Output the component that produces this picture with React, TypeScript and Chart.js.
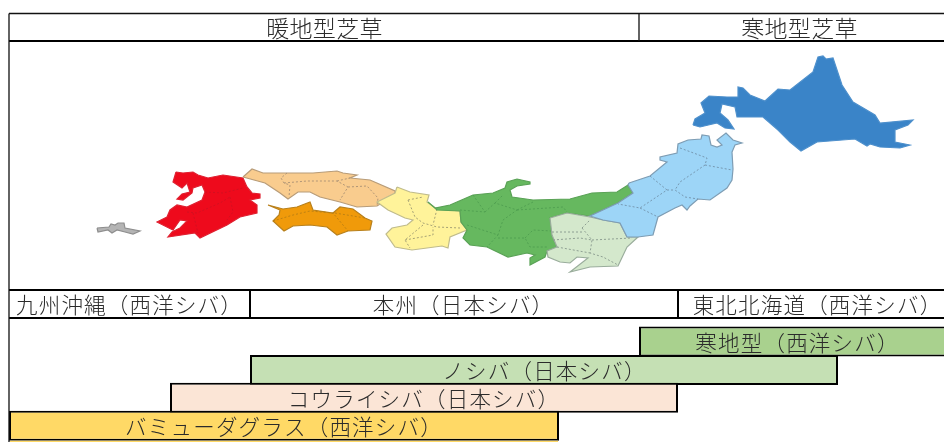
import React, { useEffect, useRef } from "react";
import { Chart, registerables } from "chart.js";

Chart.register(...registerables);

type P = [number, number];

// ---- map outlines ----
const okinawa: P[] = [[97,228],[109,227],[111,224],[115,225],[118,223],[124,223],[125,228],[140,231],[133,234],[125,232],[117,230],[112,233],[108,230],[98,232]];
const kyushu: P[] = [[176,172],[183,173],[193,172],[198,175],[208,178],[223,175],[243,178],[247,187],[252,193],[260,194],[260,198],[250,200],[257,205],[257,213],[240,217],[227,225],[200,238],[195,233],[168,237],[172,232],[180,228],[187,221],[180,220],[173,230],[157,222],[167,217],[170,210],[177,205],[187,207],[202,200],[205,192],[202,185],[193,188],[192,193],[183,200],[177,199],[182,194],[190,192],[187,183],[182,188],[173,182]];
const shikoku: P[] = [[268,205],[283,209],[297,207],[310,202],[313,210],[333,213],[340,207],[353,209],[365,218],[372,221],[370,230],[348,231],[337,235],[327,227],[310,225],[293,226],[284,231],[273,221],[279,215],[280,210]];
const chugoku: P[] = [[243,177],[252,169],[263,173],[287,173],[313,173],[337,171],[343,173],[357,175],[350,178],[370,180],[395,191],[395,195],[377,206],[357,207],[340,202],[320,197],[310,192],[298,192],[288,199],[280,193],[265,183]];
const kansai: P[] = [[397,187],[410,192],[429,195],[427,202],[437,209],[460,211],[461,222],[467,230],[450,237],[448,248],[442,246],[412,250],[395,247],[386,234],[392,228],[407,225],[413,220],[405,218],[388,210],[377,202],[395,193]];
const chubu: P[] = [[428,202],[435,208],[450,205],[473,195],[493,193],[505,188],[507,182],[517,179],[530,182],[530,184],[517,186],[510,190],[512,197],[533,200],[570,199],[592,193],[617,192],[628,185],[633,193],[618,203],[590,216],[567,213],[550,218],[552,235],[557,247],[547,251],[545,257],[530,265],[530,258],[535,255],[527,253],[508,257],[487,247],[470,245],[463,238],[467,230],[461,222],[460,211],[437,210]];
const kanto: P[] = [[550,218],[567,213],[590,217],[603,220],[620,223],[627,237],[638,237],[627,247],[618,266],[590,267],[570,272],[588,258],[577,257],[570,263],[560,262],[548,257],[547,251],[557,247],[552,235]];
const tohoku: P[] = [[629,183],[650,176],[667,162],[660,160],[660,157],[677,153],[678,144],[688,140],[701,139],[702,135],[709,136],[711,145],[717,147],[722,145],[717,140],[726,133],[733,140],[742,143],[735,145],[732,152],[733,169],[732,180],[727,188],[710,200],[698,199],[690,206],[687,210],[682,205],[675,208],[658,217],[653,235],[638,237],[627,237],[620,223],[603,220],[590,216],[618,203],[633,193],[628,185]];
const hokkaido: P[] = [[693,125],[695,119],[705,113],[701,103],[709,96],[727,97],[738,97],[738,87],[743,88],[750,95],[765,101],[778,89],[790,90],[813,72],[818,57],[823,56],[826,59],[833,58],[842,85],[853,102],[875,115],[880,123],[913,120],[908,125],[895,130],[895,142],[910,145],[900,148],[880,147],[870,144],[867,146],[855,139],[817,142],[801,151],[790,142],[778,130],[763,117],[737,117],[735,107],[722,104],[720,113],[728,120],[734,129],[725,128],[717,123],[700,127]];

// ---- prefecture borders inside each region ----
const kyushuBorders: P[][] = [
  [[205,192],[223,193],[243,188]],
  [[230,197],[233,212],[227,220]],
  [[187,212],[197,213],[220,203],[230,197]],
  [[193,213],[198,233]],
];
const shikokuBorders: P[][] = [
  [[273,221],[293,215],[310,211],[333,213],[348,231]],
  [[335,213],[353,216],[365,218]],
];
const chugokuBorders: P[][] = [
  [[287,173],[281,178],[284,183],[290,185],[289,197]],
  [[284,183],[307,181],[337,181],[348,187],[340,200]],
  [[337,181],[350,178]],
  [[348,187],[367,186],[378,198],[377,206]],
];
const kansaiBorders: P[][] = [
  [[408,200],[415,217],[423,223],[437,227],[460,228]],
  [[437,209],[433,225]],
  [[423,225],[405,240],[410,248]],
  [[405,240],[433,235],[433,227]],
  [[408,200],[423,197]],
];
const chubuBorders: P[][] = [
  [[473,195],[485,212],[460,210]],
  [[485,212],[495,203],[517,210],[503,220],[498,235]],
  [[495,203],[503,195]],
  [[517,210],[533,202]],
  [[517,210],[563,207],[567,212]],
  [[467,225],[498,235],[487,247]],
  [[498,238],[525,238],[530,247],[547,247]],
  [[525,238],[533,230],[552,231]],
];
const kantoBorders: P[][] = [
  [[582,228],[590,220]],
  [[582,228],[592,240],[590,253],[603,257],[618,265]],
  [[592,240],[632,238]],
  [[552,232],[582,232]],
  [[553,240],[580,238],[592,240]],
  [[557,247],[590,253]],
];
const tohokuBorders: P[][] = [
  [[680,148],[707,158],[705,165],[680,182],[675,190],[685,197],[698,199]],
  [[705,165],[732,170]],
  [[650,176],[667,190],[640,208],[618,204]],
  [[667,190],[675,190]],
  [[640,208],[658,217]],
];

const regions = [
  { pts: okinawa, fill: "#B4B4B4", edge: "#8E8E8E", borders: [] as P[][], dash: "#777" },
  { pts: kyushu, fill: "#EE0A1C", edge: "#E02030", borders: kyushuBorders, dash: "#D01020" },
  { pts: chugoku, fill: "#F9CC8E", edge: "#B89C78", borders: chugokuBorders, dash: "#A89074" },
  { pts: shikoku, fill: "#F09A0A", edge: "#B8801C", borders: shikokuBorders, dash: "#B87E14" },
  { pts: kansai, fill: "#FFF39A", edge: "#C0BC8C", borders: kansaiBorders, dash: "#9C9870" },
  { pts: chubu, fill: "#66B85F", edge: "#5AA256", borders: chubuBorders, dash: "#4F9E50" },
  { pts: kanto, fill: "#D4E8CC", edge: "#9AAD9C", borders: kantoBorders, dash: "#87978C" },
  { pts: tohoku, fill: "#9DD5F7", edge: "#7E9DB4", borders: tohokuBorders, dash: "#7292AA" },
  { pts: hokkaido, fill: "#3A84C8", edge: "#4E90CC", borders: [] as P[][], dash: "#333" },
];

// ---- table rules ----
const thickRules: P[][] = [
  [[9,41],[944,41]],
  [[9,290],[944,290]],
  [[9,318],[944,318]],
  [[250,290],[250,318]],
  [[678,290],[678,318]],
];
const thinRules: P[][] = [
  [[9,13.5],[944,13.5]],
  [[639,13.5],[639,41]],
  [[9,13.5],[9,442]],
];

// ---- zone bars ----
const barNames = ["寒地型（西洋シバ）", "ノシバ（日本シバ）", "コウライシバ（日本シバ）", "バミューダグラス（西洋シバ）"];
const barStarts = [639, 250, 170, 9];
const barEnds = [947, 838, 678, 559];
const barRows = [341.6, 369.9, 397.7, 425.7];
const barColors = ["#A9D18E", "#C5E0B4", "#FBE5D6", "#FFD966"];
const barTextNudge = [6, 0.5, 0, 0];

// ---- header texts ----
const headNames = ["暖地型芝草", "寒地型芝草"];
const headCentres = [324.5, 799.5];
const headRow = 28;
const zoneNames = ["九州沖縄（西洋シバ）", "本州（日本シバ）", "東北北海道（西洋シバ）"];
const zoneCentres = [129.5, 463.5, 817.5];
const zoneRow = 305;

const FONT = '"Noto Sans CJK JP"';

const textPlugin = {
  id: "tableText",
  afterDatasetsDraw(chart: any) {
    const { ctx, scales } = chart;
    const put = (t: string, x: number, y: number, size: number, gap: string) => {
      ctx.font = `300 ${size}px ${FONT}`;
      ctx.letterSpacing = gap;
      ctx.fillText(t, scales.x.getPixelForValue(x), scales.y.getPixelForValue(y));
    };
    ctx.save();
    ctx.fillStyle = "#2b2b2b";
    ctx.textAlign = "center";
    ctx.textBaseline = "middle";
    headNames.forEach((t, i) => put(t, headCentres[i], headRow, 23, "0.3px"));
    zoneNames.forEach((t, i) => put(t, zoneCentres[i], zoneRow, 21.5, "1.2px"));
    barNames.forEach((t, i) =>
      put(t, (barStarts[i] + Math.min(barEnds[i], 944)) / 2 + barTextNudge[i], barRows[i] + 1, 21.5, "1.2px")
    );
    ctx.restore();
  },
};

const toXY = (p: P[]) => p.map(([x, y]) => ({ x, y }));

export default function App() {
  const ref = useRef<HTMLCanvasElement>(null);
  useEffect(() => {
    // painted in this order: Chart.js paints the last dataset first, so the list is reversed below
    const layers: any[] = [];
    const seg = (pts: P[], color: string, width: number, dash: number[] = []) =>
      layers.push({
        type: "scatter", data: toXY(pts), showLine: true, pointRadius: 0,
        borderColor: color, borderWidth: width, borderDash: dash, tension: 0, clip: false,
      });
    regions.forEach((r) => {
      layers.push({
        type: "scatter", data: toXY([...r.pts, r.pts[0]]), showLine: true, pointRadius: 0,
        borderColor: r.edge, borderWidth: 1.2, backgroundColor: r.fill, fill: "shape", tension: 0,
      });
      r.borders.forEach((b) => seg(b, r.dash, 0.9, [2, 2]));
    });
    layers.push({
      type: "bar", indexAxis: "y", grouped: false,
      data: barRows.map((y, i) => ({ y, x: [barStarts[i], barEnds[i]] })),
      backgroundColor: barColors, borderColor: "#000", borderWidth: 2,
      borderSkipped: false, barThickness: 30, inflateAmount: 0,
    });
    seg([[10, 441.5], [558, 441.5]], "#FFD966", 1.5);
    thickRules.forEach((r) => seg(r, "#000", 2));
    thinRules.forEach((r) => seg(r, "#111", 1.3));

    const chart = new Chart(ref.current!, {
      type: "scatter",
      data: { datasets: layers.reverse() },
      plugins: [textPlugin],
      options: {
        animation: false,
        responsive: false,
        layout: { padding: 0 },
        plugins: { legend: { display: false }, tooltip: { enabled: false } },
        scales: {
          x: { type: "linear", min: 0, max: 944, display: false, offset: false },
          y: { type: "linear", min: 0, max: 442, reverse: true, display: false, offset: false },
        },
      },
    } as any);
    return () => chart.destroy();
  }, []);
  return (
    <div style={{ position: "fixed", left: 0, top: 0, width: 944, height: 442, background: "#fff" }}>
      <canvas ref={ref} width={944} height={442} style={{ display: "block" }} />
    </div>
  );
}
